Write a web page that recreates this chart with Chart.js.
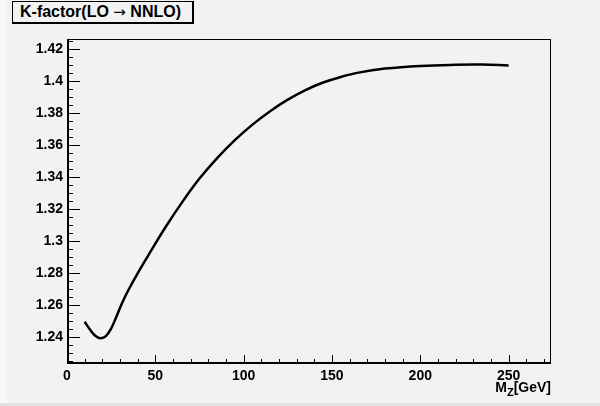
<!DOCTYPE html>
<html>
<head>
<meta charset="utf-8">
<script src="https://cdn.jsdelivr.net/npm/chart.js@4/dist/chart.umd.min.js"></script>
<style>
  html, body { margin: 0; padding: 0; background: #f2f2f2; }
  #wrap { position: relative; width: 600px; height: 406px; background: #f2f2f2; overflow: hidden;
          font-family: "Liberation Sans", Arial, sans-serif; }
  #wrap canvas { position: absolute; left: 0; top: 0; }
  #edgeL { position: absolute; left: 0; top: 0; width: 7px; height: 406px; background: #f7f7f7; }
  #edgeB { position: absolute; left: 0; bottom: 0; width: 600px; height: 3px; background: #e2e2e2; }
  #title { position: absolute; left: 12px; top: 1px; width: 172px; height: 20px;
           border: 1px solid #000; border-right-width: 2px; border-bottom-width: 2px;
           background: #f2f2f2; font-weight: bold; font-size: 16px; line-height: 20px;
           padding-left: 7px; color: #000; white-space: nowrap; }
  #title .arr { font-family: "DejaVu Sans", sans-serif; font-weight: normal; font-size: 15px; }
  #xlabel { position: absolute; right: 49px; top: 380px; font-weight: bold; font-size: 14px; color: #000; line-height: 14px; }
  #xlabel sub { font-size: 11px; vertical-align: -4px; line-height: 0; }
</style>
</head>
<body>
<div id="wrap">
  <div id="edgeL"></div>
  <div id="edgeB"></div>
  <canvas id="c" width="600" height="406"></canvas>
  <div id="title">K-factor(LO <span class="arr">&rarr;</span> NNLO)</div>
  <div id="xlabel">M<sub>Z</sub>[GeV]</div>
</div>
<script>
// Z mass (GeV) and K-factor
const massZ = [10, 13, 16, 19, 22, 25, 28, 31, 35, 40, 47, 56, 66, 75, 85, 95, 105, 115, 125, 135, 145, 155, 165, 180, 200, 220, 235, 250];
const kFactor = [1.2497, 1.2448, 1.2410, 1.2394, 1.2407, 1.2455, 1.2530, 1.2610, 1.2700, 1.2800, 1.2930, 1.3092, 1.3257, 1.3392, 1.3520, 1.3632, 1.3729, 1.3813, 1.3885, 1.3945, 1.3992, 1.4027, 1.4054, 1.4079, 1.4096, 1.4103, 1.4104, 1.4099];

const xRange = [0, 274];
const yRange = [1.2233, 1.4264];
const xMajor = 50, xMinor = 10;
const yMajor = 0.02, yMinor = 0.005;

const points = massZ.map((m, i) => ({ x: m, y: kFactor[i] }));

const fontSpec = { family: 'Liberation Sans, Arial, sans-serif', size: 14, weight: 'bold' };

// ROOT style frame: box with inward ticks
const frame = {
  id: 'frame',
  afterDraw(chart) {
    const { ctx, chartArea: a, scales: { x, y } } = chart;
    ctx.save();
    ctx.strokeStyle = '#000';
    ctx.lineWidth = 1;
    ctx.strokeRect(a.left + 0.5, a.top + 0.5, a.right - a.left - 1, a.bottom - a.top - 1);
    ctx.lineWidth = 2;
    ctx.beginPath();
    ctx.moveTo(a.left, a.bottom - 1); ctx.lineTo(a.right, a.bottom - 1);
    ctx.moveTo(a.left + 1, a.top); ctx.lineTo(a.left + 1, a.bottom);
    ctx.stroke();
    ctx.lineWidth = 1;
    ctx.beginPath();
    x.ticks.forEach(t => {
      const px = Math.round(x.getPixelForValue(t.value)) + 0.5;
      const major = Math.round(t.value) % xMajor === 0;
      ctx.moveTo(px, a.bottom); ctx.lineTo(px, a.bottom - (major ? 9 : 5));
    });
    y.ticks.forEach(t => {
      const py = Math.round(y.getPixelForValue(t.value)) + 0.5;
      const major = Math.round(t.value * 1000) % Math.round(yMajor * 1000) === 0;
      ctx.moveTo(a.left, py); ctx.lineTo(a.left + (major ? 13 : 6), py);
    });
    ctx.stroke();
    ctx.restore();
  }
};

new Chart(document.getElementById('c'), {
  type: 'line',
  data: {
    datasets: [{
      data: points,
      borderColor: '#000',
      borderWidth: 2.5,
      pointRadius: 0,
      tension: 0.4,
      fill: false
    }]
  },
  options: {
    responsive: false,
    animation: false,
    events: [],
    layout: { padding: { left: 0, top: 39, right: 49, bottom: 0 } },
    plugins: { legend: { display: false }, tooltip: { enabled: false } },
    scales: {
      x: {
        type: 'linear',
        min: xRange[0], max: xRange[1],
        grid: { display: false, drawTicks: false },
        border: { display: false },
        afterFit: s => { s.height = 42; },
        afterBuildTicks: s => {
          s.ticks = [];
          for (let v = 0; v <= xRange[1]; v += xMinor) s.ticks.push({ value: v });
        },
        ticks: {
          color: '#000', font: fontSpec, padding: 4, autoSkip: false, maxRotation: 0,
          callback: v => (Math.round(v) % xMajor === 0 ? String(v) : '')
        }
      },
      y: {
        type: 'linear',
        min: yRange[0], max: yRange[1],
        grid: { display: false, drawTicks: false },
        border: { display: false },
        afterFit: s => { s.width = 67; },
        afterBuildTicks: s => {
          s.ticks = [];
          for (let k = 1225; k <= 1425; k += yMinor * 1000) s.ticks.push({ value: k / 1000 });
        },
        ticks: {
          color: '#000', font: fontSpec, padding: 4, autoSkip: false,
          callback: v => (Math.round(v * 1000) % 20 === 0 ? String(parseFloat(v.toFixed(2))) : '')
        }
      }
    }
  },
  plugins: [frame]
});
</script>
</body>
</html>
